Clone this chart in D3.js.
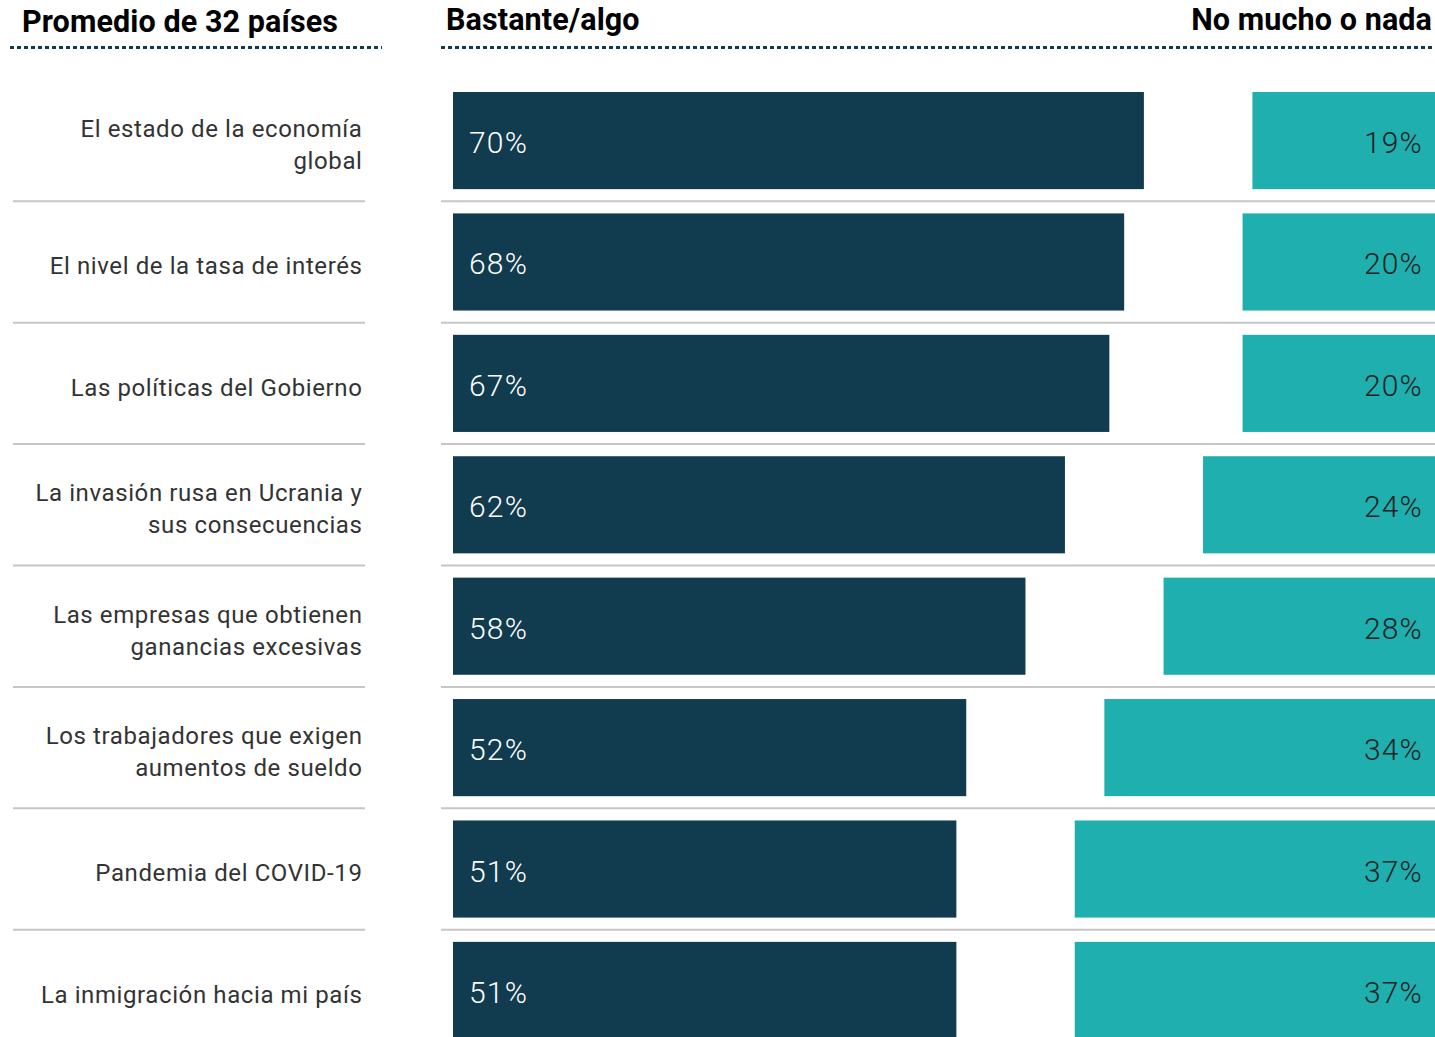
<!DOCTYPE html>
<html>
<head>
<meta charset="utf-8">
<script src="https://cdn.jsdelivr.net/npm/d3@7"></script>
<style>
  html, body { margin: 0; padding: 0; background: #fff; }
  svg { display: block; }
</style>
</head>
<body>
<svg id="chart" width="1435" height="1037"></svg>
<script>
const categories = [
  ["El estado de la economía", "global"],
  ["El nivel de la tasa de interés"],
  ["Las políticas del Gobierno"],
  ["La invasión rusa en Ucrania y", "sus consecuencias"],
  ["Las empresas que obtienen", "ganancias excesivas"],
  ["Los trabajadores que exigen", "aumentos de sueldo"],
  ["Pandemia del COVID-19"],
  ["La inmigración hacia mi país"]
];
const bastante = [70, 68, 66.5, 62, 58, 52, 51, 51];
const noMucho = [18.5, 19.5, 19.5, 23.5, 27.5, 33.5, 36.5, 36.5];
const bastanteLabels = ["70%", "68%", "67%", "62%", "58%", "52%", "51%", "51%"];
const noMuchoLabels = ["19%", "20%", "20%", "24%", "28%", "34%", "37%", "37%"];
const headers = { left: "Promedio de 32 países", mid: "Bastante/algo", right: "No mucho o nada" };

const svg = d3.select("#chart");
const dark = "#113b4e", teal = "#1eafae", navy = "#123b4f";
const font = "Roboto, 'Noto Sans', sans-serif";

const idx = categories.map((d, i) => i);
const y = d3.scaleBand().domain(idx).range([92, 1039]).paddingInner(0.2).paddingOuter(0);
const x = d3.scaleLinear().domain([0, 100]).range([0, 987]);
const darkX0 = 453, tealX1 = 1435;

// Headers
const hdr = (t, xx, yy, anchor) => svg.append("text").attr("x", xx).attr("y", yy)
  .attr("text-anchor", anchor).text(t)
  .attr("font-family", font).attr("font-weight", 700).attr("font-size", 30.5)
  .attr("letter-spacing", 0.1).attr("fill", "#000");
hdr(headers.left, 22, 32, "start");
hdr(headers.mid, 446, 30, "start");
hdr(headers.right, 1432, 30, "end");

// dotted rules
[[10, 382], [441, 1435]].forEach(([a, b]) => {
  svg.append("line").attr("x1", a).attr("x2", b).attr("y1", 47.5).attr("y2", 47.5)
    .attr("stroke", navy).attr("stroke-width", 3).attr("stroke-dasharray", "4,3");
});

// separators
const seps = idx.slice(1);
const sepY = i => y(i) - (y.step() - y.bandwidth()) / 2;
svg.selectAll(".sepL").data(seps).join("line")
  .attr("x1", 13).attr("x2", 365).attr("y1", d => sepY(d)).attr("y2", d => sepY(d))
  .attr("stroke", "#c6c6c6").attr("stroke-width", 2);
svg.selectAll(".sepR").data(seps).join("line")
  .attr("x1", 441).attr("x2", 1435).attr("y1", d => sepY(d)).attr("y2", d => sepY(d))
  .attr("stroke", "#c6c6c6").attr("stroke-width", 2);

// dark bars
svg.selectAll(".bd").data(bastante).join("rect")
  .attr("x", darkX0).attr("y", (d, i) => y(i)).attr("width", d => x(d)).attr("height", y.bandwidth())
  .attr("fill", dark);
svg.selectAll(".bt").data(noMucho).join("rect")
  .attr("x", d => tealX1 - x(d)).attr("y", (d, i) => y(i)).attr("width", d => x(d)).attr("height", y.bandwidth())
  .attr("fill", teal);

// value labels
svg.selectAll(".ld").data(bastanteLabels).join("text")
  .attr("x", 469).attr("y", (d, i) => y(i) + y.bandwidth() / 2 + 2).attr("dy", "0.35em")
  .attr("font-family", font).attr("font-weight", 300).attr("font-size", 30).attr("letter-spacing", 1.2)
  .attr("fill", "#fff").text(d => d);
svg.selectAll(".lt").data(noMuchoLabels).join("text")
  .attr("x", 1423).attr("text-anchor", "end").attr("y", (d, i) => y(i) + y.bandwidth() / 2 + 2).attr("dy", "0.35em")
  .attr("font-family", font).attr("font-weight", 300).attr("font-size", 30).attr("letter-spacing", 1.2)
  .attr("fill", "#222").text(d => d);

// category labels
categories.forEach((lines, i) => {
  const cy = y(i) + y.bandwidth() / 2 + 4;
  const n = lines.length;
  lines.forEach((ln, j) => {
    svg.append("text").attr("x", 362.5).attr("text-anchor", "end")
      .attr("y", cy + (j - (n - 1) / 2) * 32).attr("dy", "0.35em")
      .attr("font-family", font).attr("font-size", 24).attr("letter-spacing", 0.6)
      .attr("fill", "#333").text(ln);
  });
});
</script>
</body>
</html>
